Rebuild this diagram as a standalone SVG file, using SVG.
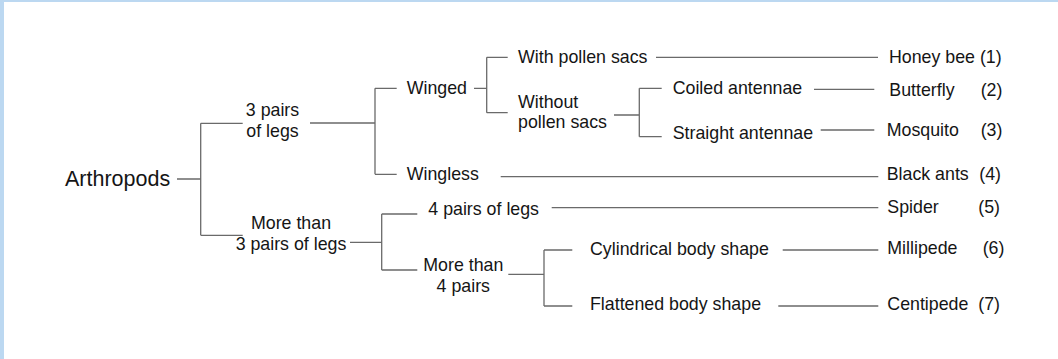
<svg xmlns="http://www.w3.org/2000/svg" width="1058" height="359" viewBox="0 0 1058 359">
<style>
text{font-family:"Liberation Sans",Arial,Helvetica,sans-serif;font-size:17.8px;fill:#151515}
.big{font-size:21.5px}
.c{text-anchor:middle}
#connectors path{fill:none;stroke:#6a6a6a;stroke-width:1.3}
</style>
<rect x="0" y="0" width="1058" height="359" fill="#ffffff"/>
<rect x="0" y="0" width="1058" height="2" fill="#bcd8f1"/>
<rect x="0" y="0" width="4" height="359" fill="#bcd8f1"/>
<g id="connectors">
<path d="M177 179H200.7M200.7 123.3V235.3M200.7 123.3H242.7M200.7 235.3H242.7"/>
<path d="M310 123H375M375 88.3V174.3M375 88.3H396.7M375 174.3H396.7"/>
<path d="M474 88.3H486.7M486.7 57.3V112.7M486.7 57.3H507.7M486.7 112.7H507.7"/>
<path d="M656 57.3H878"/>
<path d="M614 115H639.3M639.3 88.3V136.7M639.3 88.3H661.7M639.3 136.7H661.7"/>
<path d="M814 89.3H874.3M820.7 130H874.3"/>
<path d="M500.7 176.7H878.3"/>
<path d="M350 242.3H381.7M381.7 214V270M381.7 214H417.3M381.7 270H417.3"/>
<path d="M551.7 207.7H878.3"/>
<path d="M508.3 274.3H544M544 250V306M544 250H572.3M544 306H572.3"/>
<path d="M782.7 250H878.3M778.3 306H878.3"/>
</g>
<g id="n-arthropods"><text class="big" x="65" y="185.5">Arthropods</text></g>
<g id="n-3pairs"><text class="c" x="272.5" y="116">3 pairs</text><text class="c" x="272.5" y="136.5">of legs</text></g>
<g id="n-more3"><text class="c" x="291" y="229">More than</text><text class="c" x="291" y="250">3 pairs of legs</text></g>
<g id="n-winged"><text x="406.7" y="93.5">Winged</text></g>
<g id="n-wingless"><text x="406.7" y="179.5">Wingless</text></g>
<g id="n-withpollen"><text x="518" y="62.5">With pollen sacs</text></g>
<g id="n-withoutpollen"><text x="518" y="107.5">Without</text><text x="518" y="128">pollen sacs</text></g>
<g id="n-coiled"><text x="672.7" y="93.5">Coiled antennae</text></g>
<g id="n-straight"><text x="672.7" y="138.5">Straight antennae</text></g>
<g id="n-4pairs"><text x="428.3" y="215">4 pairs of legs</text></g>
<g id="n-more4"><text class="c" x="463.3" y="271">More than</text><text class="c" x="463.3" y="291.7">4 pairs</text></g>
<g id="n-cyl"><text x="590" y="255">Cylindrical body shape</text></g>
<g id="n-flat"><text x="590" y="310">Flattened body shape</text></g>
<g id="n-honeybee"><text x="889" y="62.5">Honey bee (1)</text></g>
<g id="n-butterfly"><text x="889.3" y="96">Butterfly</text><text x="980.7" y="96">(2)</text></g>
<g id="n-mosquito"><text x="886.7" y="136">Mosquito</text><text x="980.7" y="136">(3)</text></g>
<g id="n-blackants"><text x="886.7" y="179.5">Black ants</text><text x="979.3" y="179.5">(4)</text></g>
<g id="n-spider"><text x="887.3" y="212.5">Spider</text><text x="978.3" y="212.5">(5)</text></g>
<g id="n-millipede"><text x="887.3" y="254">Millipede</text><text x="982.7" y="254">(6)</text></g>
<g id="n-centipede"><text x="887.3" y="309.5">Centipede</text><text x="978.3" y="309.5">(7)</text></g>
</svg>
